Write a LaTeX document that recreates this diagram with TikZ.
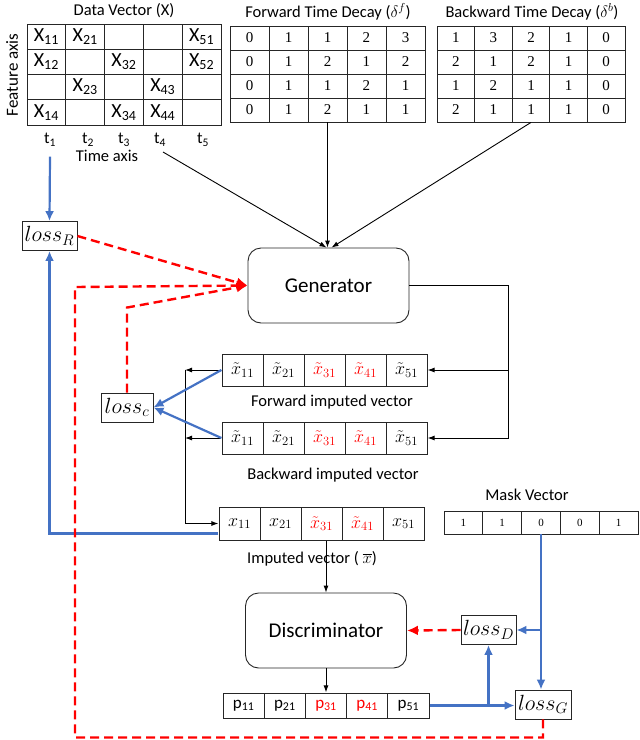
\RequirePackage{fix-cm}
\documentclass[tikz,border=0pt]{standalone}
\usepackage{amsmath,amssymb}
\usepackage[no-math]{fontspec}
\setmainfont{Carlito}
\newfontfamily\tnr{Liberation Serif}
\usepackage{xcolor}
\usepackage{tikz}
\usetikzlibrary{matrix,arrows.meta}
\definecolor{lblue}{RGB}{68,114,196}

\begin{document}
\begin{tikzpicture}[x=1pt,y=-1pt,>={Latex[length=7pt,width=5pt]}]
\tikzstyle{block}=[rectangle,draw=black!85,line width=0.9pt,rounded corners=13pt,minimum width=161pt,minimum height=75pt,font=\fontsize{21}{25}\selectfont]
\tikzstyle{lossbox}=[rectangle,draw=black!85,line width=0.9pt,inner sep=1pt,minimum height=29pt,font=\fontsize{22}{26}\selectfont]
\tikzstyle{lbl}=[inner sep=2pt,font=\fontsize{16.5}{20}\selectfont]
\tikzstyle{tab}=[matrix of nodes,nodes in empty cells,inner sep=0pt,column sep=-0.8pt,row sep=-0.8pt,nodes={rectangle,draw=black!85,line width=0.8pt,inner sep=0pt,anchor=center}]
\tikzstyle{vcell}=[minimum width=41pt,minimum height=32pt,font=\fontsize{18}{22}\selectfont]
\tikzstyle{conn}=[->,line width=0.9pt]
\tikzstyle{bline}=[-{Latex[length=10pt,width=9pt]},draw=lblue,line width=2.2pt]
\tikzstyle{rline}=[-{Latex[length=11pt,width=10pt]},draw=red,line width=2.4pt,dash pattern=on 9pt off 5pt]
\useasboundingbox (0,0) rectangle (640,740);

\node[lbl] (dtitle) at (124,11) {Data Vector (X)};
\node[lbl,rotate=90,font=\fontsize{17}{20}\selectfont] (fax) at (12,75) {Feature axis};
\matrix[tab,nodes={minimum width=38.8pt,minimum height=25.25pt,font=\fontsize{20}{24}\selectfont}] (dat) at (124,74.5) {
X\textsubscript{11} & X\textsubscript{21} & & & X\textsubscript{51}\\
X\textsubscript{12} & & X\textsubscript{32} & & X\textsubscript{52}\\
& X\textsubscript{23} & & X\textsubscript{43} & \\
X\textsubscript{14} & & X\textsubscript{34} & X\textsubscript{44} & \\
};
\foreach \i/\x in {1/50,2/88,3/124,4/160,5/203}
  \node[lbl] (t-\i) at (\x,140) {t\textsubscript{\i}};
\node[lbl] (tax) at (107,156) {Time axis};

\node[lbl] (ftitle) at (328,12) {Forward Time Decay ($\delta^f$)};
\matrix[tab,nodes={minimum width=39pt,minimum height=24pt,font=\tnr\fontsize{15}{18}\selectfont}] (fdec) at (327.5,74) {
0&1&1&2&3\\0&1&2&1&2\\0&1&1&2&1\\0&1&2&1&1\\
};
\node[lbl] (btitle) at (532,12) {Backward Time Decay ($\delta^b$)};
\matrix[tab,nodes={minimum width=37.6pt,minimum height=24pt,font=\tnr\fontsize{15}{18}\selectfont}] (bdec) at (531,74) {
1&3&2&1&0\\2&1&2&1&0\\1&2&1&1&0\\2&1&1&1&0\\
};

\node[block] (gen) at (328.5,285.5) {Generator};
\matrix[tab,nodes={vcell}] (fiv) at (324.5,370) {
$\tilde{x}_{11}$ & $\tilde{x}_{21}$ & |[text=red]| $\tilde{x}_{31}$ & |[text=red]| $\tilde{x}_{41}$ & $\tilde{x}_{51}$\\
};
\node[lbl] (flab) at (332,402) {Forward imputed vector};
\matrix[tab,nodes={vcell}] (biv) at (324.5,438) {
$\tilde{x}_{11}$ & $\tilde{x}_{21}$ & |[text=red]| $\tilde{x}_{31}$ & |[text=red]| $\tilde{x}_{41}$ & $\tilde{x}_{51}$\\
};
\node[lbl] (blab) at (333,475) {Backward imputed vector};
\matrix[tab,nodes={vcell,minimum height=33pt}] (imp) at (321.5,523.5) {
$x_{11}$ & $x_{21}$ & |[text=red]| $\tilde{x}_{31}$ & |[text=red]| $\tilde{x}_{41}$ & $x_{51}$\\
};
\node[lbl] (ilab) at (312,559) {Imputed vector ( $\overline{x}$)};
\node[lbl] (mlab) at (527,495) {Mask Vector};
\matrix[tab,nodes={minimum width=38.8pt,minimum height=23pt,font=\tnr\fontsize{11}{13}\selectfont}] (mask) at (541,522.5) {
1&1&0&0&1\\
};
\node[block] (dis) at (326,630.5) {Discriminator};
\matrix[tab,nodes={minimum width=41.2pt,minimum height=25pt,font=\fontsize{17}{20}\selectfont}] (pv) at (326,705.5) {
p\textsubscript{11} & p\textsubscript{21} & |[text=red]| p\textsubscript{31} & |[text=red]| p\textsubscript{41} & p\textsubscript{51}\\
};

\node[lossbox,minimum width=55pt] (lossR) at (49.5,236) {$loss_R$};
\node[lossbox,minimum width=52pt] (lossc) at (127,407.5) {$loss_c$};
\node[lossbox,minimum width=55pt] (lossD) at (488.5,630) {$loss_D$};
\node[lossbox,minimum width=56pt] (lossG) at (543,704.5) {$loss_G$};

\coordinate (tx) at (163,152);
\coordinate (br) at (508,438);
\coordinate (bl) at (185,523.5);
\draw[conn] (tx) -- ([xshift=-2pt]gen.north);
\draw[conn] (fdec-4-3.south) -- (fdec-4-3.south |- gen.north);
\draw[conn] (bdec-4-3.south) -- ([xshift=3pt]gen.north);
\draw[conn] (gen.east) -| (br) -- (biv.east);
\draw[conn] (br |- fiv.east) -- (fiv.east);
\draw[conn] (fiv.west) -- (fiv.west -| bl);
\draw[conn] (biv.west) -- (biv.west -| bl);
\draw[conn] (fiv.west -| bl) -- (bl) -- (imp.west);
\draw[conn] (dis.north |- imp.south) -- (dis.north);
\draw[conn] (dis.south) -- (dis.south |- pv.north);

\draw[bline] ([yshift=-8pt]t-1.south) -- (lossR.north);
\draw[bline] ([yshift=-10pt]imp.west) -| (lossR.south);
\draw[bline] (fiv.west) -- (lossc.east);
\draw[bline] (biv.west) -- (lossc.east);
\draw[bline] (mask-1-3.south) -- (mask-1-3.south |- lossG.north);
\draw[bline] (mask-1-3.south |- lossD.east) -- (lossD.east);
\draw[bline] (pv.east) -- (pv.east -| lossG.west);
\draw[bline] (lossD.south |- pv.east) -- (lossD.south);

\draw[rline] (lossD.west) -- (dis.east);
\draw[rline] (lossR.east) -- (gen.west);
\draw[rline] (lossc.north) -- ++(0,-85) -- (gen.west);
\draw[rline] (lossG.south) -- ++(0,18) -| (75,287) -- (gen.west);
\end{tikzpicture}
\end{document}
